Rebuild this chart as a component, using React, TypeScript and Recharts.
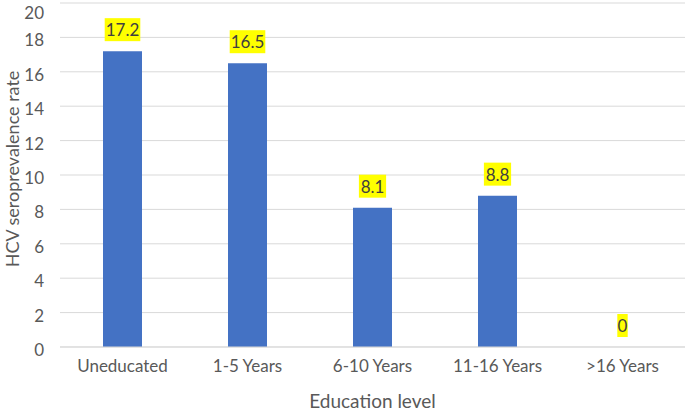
import React from 'react';
import {
  ComposedChart,
  Bar,
  Line,
  XAxis,
  YAxis,
  CartesianGrid,
  LabelList,
} from 'recharts';

const categories = ['Uneducated', '1-5 Years', '6-10 Years', '11-16 Years', '>16 Years'];
const rates = [17.2, 16.5, 8.1, 8.8, 0];
const yTicks = [0, 2, 4, 6, 8, 10, 12, 14, 16, 18, 20];

// label kept as a string so a zero value still gets its label
const chartData = categories.map((name, i) => ({ name, rate: rates[i], label: String(rates[i]) }));

const FONT = 'Lato, "Open Sans", sans-serif';
const GREY = '#595959';

// yellow highlighted value label above each point
const ValueLabel = (props: any) => {
  const { x, y, width, value } = props;
  const text = String(value);
  const w = text.length * 8.4 + 2;
  const h = 23;
  const cx = x + (width || 0) / 2;
  const bottom = y - 10;
  return (
    <g>
      <rect x={cx - w / 2} y={bottom - h} width={w} height={h} fill="#FFFF00" />
      <text
        x={cx}
        y={bottom - h / 2}
        textAnchor="middle"
        dominantBaseline="central"
        fontSize={17}
        fontFamily={FONT}
        fill="#404040"
      >
        {text}
      </text>
    </g>
  );
};

const XTitle = (props: any) => {
  const { viewBox } = props;
  return (
    <text
      x={viewBox.x + viewBox.width / 2}
      y={408}
      textAnchor="middle"
      fontSize={19}
      fontFamily={FONT}
      fill={GREY}
    >
      Education level
    </text>
  );
};

const YTitle = (props: any) => {
  const { viewBox } = props;
  const cy = viewBox.y + viewBox.height / 2 - 6;
  return (
    <text
      x={12}
      y={cy}
      transform={`rotate(-90, 12, ${cy})`}
      textAnchor="middle"
      dominantBaseline="central"
      fontSize={18}
      fontFamily={FONT}
      fill={GREY}
    >
      HCV seroprevalence rate
    </text>
  );
};

export default function App() {
  return (
    <div style={{ position: 'absolute', top: 0, left: 0, width: 685, height: 411, background: '#fff' }}>
      <ComposedChart
        width={685}
        height={411}
        data={chartData}
        margin={{ top: 3, right: 0, left: 0, bottom: 0 }}
      >
        <CartesianGrid vertical={false} stroke="#d9d9d9" />
        <XAxis
          dataKey="name"
          height={64}
          axisLine={{ stroke: '#d9d9d9' }}
          tickLine={false}
          tickSize={0}
          tickMargin={13}
          tick={{ fontSize: 17, fontFamily: FONT, fill: GREY }}
          label={<XTitle />}
        />
        <YAxis
          width={60}
          domain={[0, 20]}
          ticks={yTicks}
          axisLine={false}
          tickLine={false}
          tickSize={0}
          tickMargin={16}
          tick={{ fontSize: 17, fontFamily: FONT, fill: GREY, dy: 3 }}
          label={<YTitle />}
        />
        <Bar dataKey="rate" fill="#4472C4" barSize={39} isAnimationActive={false} />
        {/* invisible series that only carries the value labels, so 0 is labelled too */}
        <Line
          dataKey="rate"
          stroke="none"
          dot={false}
          activeDot={false}
          legendType="none"
          isAnimationActive={false}
        >
          <LabelList dataKey="label" content={<ValueLabel />} />
        </Line>
      </ComposedChart>
    </div>
  );
}
